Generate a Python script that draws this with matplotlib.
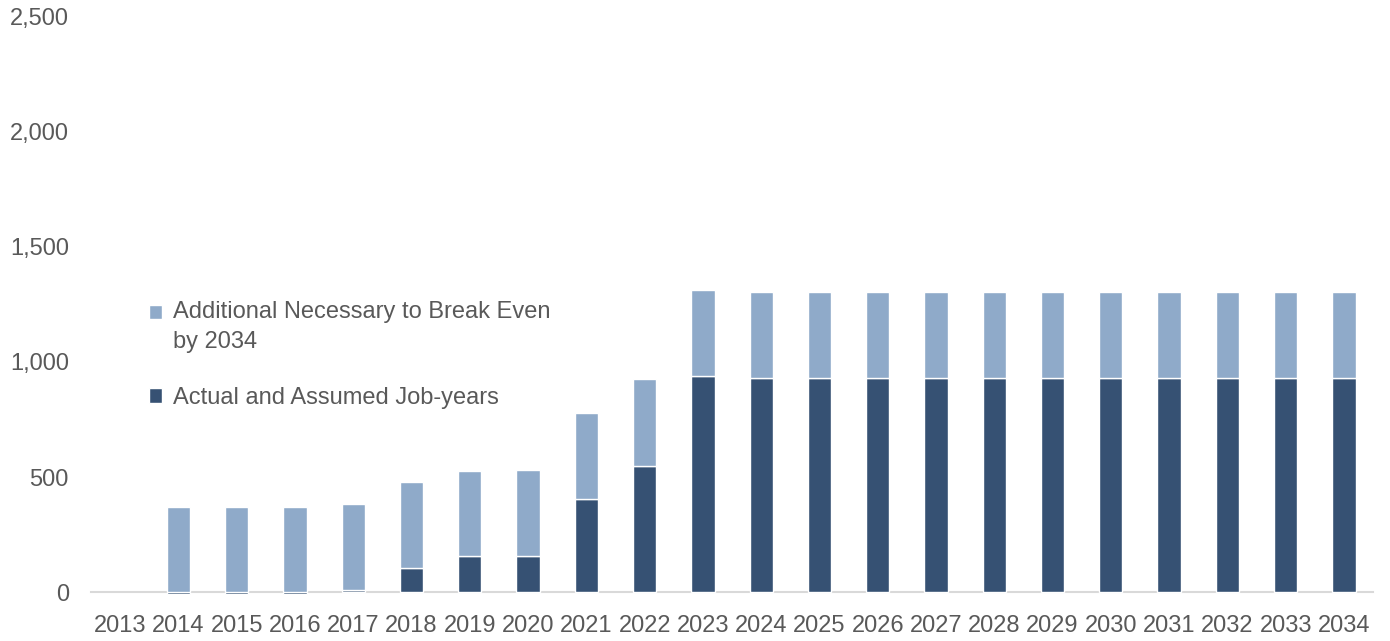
import matplotlib
matplotlib.use("Agg")
import matplotlib.pyplot as plt
import numpy as np
from matplotlib.ticker import FuncFormatter
from matplotlib.patches import Rectangle
from matplotlib.legend_handler import HandlerPatch

plt.rcParams['font.family'] = ['Liberation Sans', 'DejaVu Sans']

years = [str(y) for y in range(2013, 2035)]
actual_job_years = [None, -8, -8, -8, 12, 107, 158, 158, 405, 549, 938,
                    928, 928, 928, 928, 928, 928, 928, 928, 928, 928, 928]
additional_needed = [None, 370, 370, 370, 370, 372, 370, 373, 374, 375, 373,
                     375, 375, 375, 375, 375, 375, 375, 375, 375, 375, 375]

label_additional = "Additional Necessary to Break Even\nby 2034"
label_actual = "Actual and Assumed Job-years"

dark = "#365173"
light = "#8FAAC9"
text_color = "#595959"

fig = plt.figure(figsize=(13.9, 6.41), dpi=100)
ax = fig.add_axes([0.0655, 0.0757, 0.9223, 0.8993])

x = np.arange(len(years))
actual = np.array(actual_job_years, dtype=float)
extra = np.array(additional_needed, dtype=float)
width = 0.4

b_act = ax.bar(x, actual, width, color=dark, edgecolor="white", linewidth=1.0,
               clip_on=False)
b_add = ax.bar(x, extra, width, bottom=np.maximum(actual, 0), color=light,
               edgecolor="white", linewidth=1.0)

ax.set_xlim(-0.5, len(years) - 0.5)
ax.set_ylim(0, 2500)
ax.set_yticks(np.arange(0, 2501, 500))
ax.yaxis.set_major_formatter(FuncFormatter(lambda v, p: f"{int(v):,}"))
ax.set_xticks(x)
ax.set_xticklabels(years)

for s in ["top", "right", "left"]:
    ax.spines[s].set_visible(False)
ax.spines["bottom"].set_color("#D9D9D9")
ax.spines["bottom"].set_linewidth(1.5)
ax.spines["bottom"].set_zorder(0.5)

ax.tick_params(axis="both", length=0, labelsize=17, colors=text_color)
ax.tick_params(axis="y", pad=16)
ax.tick_params(axis="x", pad=16)


def top_aligned_square(shift):
    # square marker lined up with the first line of a wrapped label
    def make(legend, orig_handle, xdescent, ydescent, width, height, fontsize):
        return Rectangle((-xdescent, -ydescent + shift), width, height)
    return HandlerPatch(patch_func=make)


h_add = b_add.patches[1]
h_act = b_act.patches[-1]
leg = ax.legend([h_add, h_act], [label_additional, label_actual],
                loc="upper left", bbox_to_anchor=(0.038, 0.522),
                frameon=False, fontsize=17, handlelength=0.55, handleheight=0.55,
                handletextpad=0.45, labelspacing=1.45, borderaxespad=0,
                handler_map={h_add: top_aligned_square(11)})
for t in leg.get_texts():
    t.set_color(text_color)
    t.set_linespacing(1.45)

fig.savefig("out.png", dpi=100)
